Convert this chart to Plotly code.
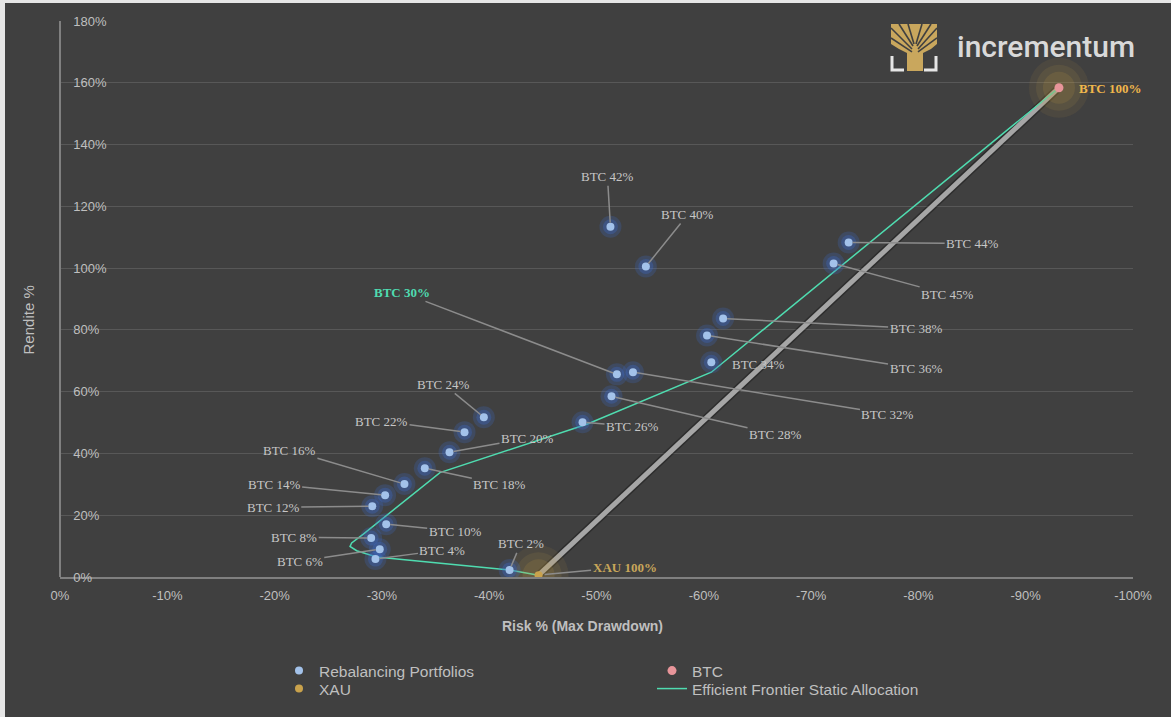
import plotly.graph_objects as go

# ---------------- data ----------------
labels = ["BTC 2%", "BTC 4%", "BTC 6%", "BTC 8%", "BTC 10%", "BTC 12%", "BTC 14%",
          "BTC 16%", "BTC 18%", "BTC 20%", "BTC 22%", "BTC 24%", "BTC 26%", "BTC 28%",
          "BTC 30%", "BTC 32%", "BTC 34%", "BTC 36%", "BTC 38%", "BTC 40%", "BTC 42%",
          "BTC 44%", "BTC 45%"]
risk = [-41.9, -29.4, -29.8, -29.0, -30.4, -29.1, -30.3, -32.1, -34.0, -36.3, -37.7,
        -39.5, -48.7, -51.4, -51.9, -53.4, -60.7, -60.3, -61.8, -54.6, -51.3, -73.5, -72.1]
ret = [2.3, 5.8, 9.0, 12.6, 17.1, 22.9, 26.5, 30.1, 35.2, 40.4, 46.9,
       51.7, 50.1, 58.5, 65.6, 66.3, 69.5, 78.2, 83.7, 100.5, 113.4, 108.3, 101.5]

xau_risk = [-44.6]
xau_ret = [0.6]
btc_risk = [-93.1]
btc_ret = [158.4]

ef_risk = [-44.6, -41.9, -29.5, -27.65, -27.03, -27.18, -28.27, -35.41, -49.1, -60.7, -93.1]
ef_ret = [0.6, 2.3, 6.5, 8.5, 9.9, 11.0, 13.9, 33.8, 49.45, 66.3, 158.4]

x_tickvals = [0, -10, -20, -30, -40, -50, -60, -70, -80, -90, -100]
x_ticktext = ["0%", "-10%", "-20%", "-30%", "-40%", "-50%", "-60%", "-70%", "-80%", "-90%", "-100%"]
y_tickvals = [0, 20, 40, 60, 80, 100, 120, 140, 160, 180]
y_ticktext = ["0%", "20%", "40%", "60%", "80%", "100%", "120%", "140%", "160%", "180%"]

# label offsets (pixels, text centre relative to point) -- styling only
label_offsets = [(11, -26), (67, -9), (-80, 12), (-77, -1), (69, 7), (-99, 1), (-111, -11),
                 (-115, -34), (75, 16), (78, -14), (-83, -11), (-40, -33), (50, 4), (164, 38),
                 (-215, -82), (255, 42), (47, 2), (209, 33), (193, 10), (42, -52), (-3, -50),
                 (124, 1), (114, 31)]
no_arrow = {"BTC 34%"}
highlight = {"BTC 30%"}

# ---------------- layout geometry ----------------
W, H = 1171, 717
ML, MR, MT, MB = 60, 38, 21, 139
PW, PH = W - ML - MR, H - MT - MB


def px_x(px):
    return (px - ML) / PW


def px_y(py):
    return (H - MB - py) / PH


BG = "#404040"
GRID = "#585858"
AXIS = "#808080"
TXT = "#bfbfbf"
LBL = "#c6c6c6"
BLUE = "#a3c2ea"
GOLD = "#c9a24c"
PINK = "#e8959a"
CYAN = "#4fdcb0"

fig = go.Figure()

# thick gray connecting line XAU -> BTC
fig.add_trace(go.Scatter(x=[xau_risk[0], btc_risk[0]], y=[xau_ret[0], btc_ret[0]], mode="lines",
                         line=dict(color="rgba(0,0,0,0.3)", width=8), showlegend=False, hoverinfo="skip"))
fig.add_trace(go.Scatter(x=[xau_risk[0], btc_risk[0]], y=[xau_ret[0], btc_ret[0]], mode="lines",
                         line=dict(color="#a6a6a6", width=5), showlegend=False, hoverinfo="skip"))

# efficient frontier
fig.add_trace(go.Scatter(x=ef_risk, y=ef_ret, mode="lines", name="Efficient Frontier Static Allocation",
                         line=dict(color=CYAN, width=1.5), hoverinfo="skip", legend="legend2", legendrank=2))

# glows
for s, a in [(60, 0.09), (46, 0.11), (32, 0.15)]:
    fig.add_trace(go.Scatter(x=xau_risk + btc_risk, y=xau_ret + btc_ret, mode="markers",
                             marker=dict(size=s, color="rgba(200,160,70,%s)" % a, line=dict(width=0)),
                             showlegend=False, hoverinfo="skip"))
for s, a in [(22, 0.22), (15, 0.30)]:
    fig.add_trace(go.Scatter(x=risk, y=ret, mode="markers",
                             marker=dict(size=s, color="rgba(60,110,210,%s)" % a, line=dict(width=0)),
                             showlegend=False, hoverinfo="skip"))

fig.add_trace(go.Scatter(x=risk, y=ret, mode="markers", name="Rebalancing Portfolios",
                         marker=dict(size=8, color=BLUE, line=dict(width=0)), hoverinfo="skip",
                         legend="legend", legendrank=1))
fig.add_trace(go.Scatter(x=btc_risk, y=btc_ret, mode="markers", name="BTC",
                         marker=dict(size=9, color=PINK, line=dict(width=0)), hoverinfo="skip",
                         legend="legend", legendrank=2))
fig.add_trace(go.Scatter(x=xau_risk, y=xau_ret, mode="markers", name="XAU",
                         marker=dict(size=8, color=GOLD, line=dict(width=0)), hoverinfo="skip",
                         legend="legend2", legendrank=1))

annotations = []
serif = "Liberation Serif"
for lab, xv, yv, (ax, ay) in zip(labels, risk, ret, label_offsets):
    if lab in highlight:
        font = dict(family=serif, size=13, color=CYAN, weight="bold")
    else:
        font = dict(family=serif, size=13, color=LBL)
    if lab in no_arrow:
        annotations.append(dict(x=xv, y=yv, text=lab, showarrow=False, xshift=ax, yshift=-ay, font=font))
    else:
        annotations.append(dict(x=xv, y=yv, text=lab, showarrow=True, ax=ax, ay=ay, arrowhead=0,
                                arrowwidth=1.5, arrowcolor="#8c8c8c", standoff=4, font=font))

annotations.append(dict(x=btc_risk[0], y=btc_ret[0], text="BTC 100%", showarrow=False, xanchor="left",
                        xshift=18, yshift=-1, font=dict(family=serif, size=13, color="#f0b74c", weight="bold")))
annotations.append(dict(x=xau_risk[0], y=xau_ret[0], text="XAU 100%", showarrow=True, ax=86, ay=-8,
                        arrowhead=0, arrowwidth=1.5, arrowcolor="#8c8c8c", standoff=6,
                        font=dict(family=serif, size=13, color="#c8a65a", weight="bold")))

# axis titles
annotations.append(dict(xref="paper", yref="paper", x=px_x(582), y=px_y(627), xanchor="center",
                        yanchor="middle", text="Risk % (Max Drawdown)", showarrow=False,
                        font=dict(family="Liberation Sans", size=14, color=TXT, weight="bold")))
annotations.append(dict(xref="paper", yref="paper", x=px_x(28), y=px_y(321), xanchor="center",
                        yanchor="middle", text="Rendite %", textangle=-90, showarrow=False,
                        font=dict(family="Liberation Sans", size=15, color=TXT)))
# logo text
annotations.append(dict(xref="paper", yref="paper", x=px_x(955), y=px_y(47), xanchor="left", yanchor="middle",
                        text="incrementum", showarrow=False,
                        font=dict(family="Roboto", size=30, color="#d9d9d9", weight=500)))

shapes = []
# outer frame
shapes.append(dict(type="rect", xref="paper", yref="paper", layer="below",
                   x0=px_x(5), x1=px_x(W + 5), y0=px_y(H + 5), y1=px_y(3),
                   fillcolor=BG, line=dict(width=0)))


def path(pts, close=True):
    s = "M" + " L".join("%.5f,%.5f" % (px_x(a), px_y(b)) for a, b in pts)
    return s + (" Z" if close else "")


LOGO_GOLD = "#c9a75d"
shapes.append(dict(type="path", xref="paper", yref="paper",
                   path=path([(891, 24), (937, 24), (937, 44), (931, 49), (923, 53), (923, 71),
                              (907, 71), (907, 53), (899, 49), (891, 44)]),
                   fillcolor=LOGO_GOLD, line=dict(width=0)))
for (a, b), (c, d) in [((912, 52), (891, 38)), ((912, 49), (891, 28)), ((913, 46), (899, 24)),
                       ((914, 44), (908, 24)),
                       ((918, 52), (937, 38)), ((918, 49), (937, 28)), ((917, 46), (931, 24)),
                       ((916, 44), (922, 24))]:
    shapes.append(dict(type="line", xref="paper", yref="paper", x0=px_x(a), y0=px_y(b),
                       x1=px_x(c), y1=px_y(d), line=dict(color=BG, width=1.6)))
shapes.append(dict(type="path", xref="paper", yref="paper", path=path([(892, 56), (892, 70), (904, 70)], False),
                   line=dict(color="#e6e6e6", width=3)))
shapes.append(dict(type="path", xref="paper", yref="paper", path=path([(936, 56), (936, 70), (924, 70)], False),
                   line=dict(color="#e6e6e6", width=3)))

legend_common = dict(orientation="h", x=px_x(279), xanchor="left", yanchor="middle",
                     entrywidth=328, entrywidthmode="pixels", bgcolor="rgba(0,0,0,0)",
                     font=dict(family="Liberation Sans", size=15.5, color=TXT), tracegroupgap=0,
                     traceorder="normal")

fig.update_layout(
    width=W, height=H,
    margin=dict(l=ML, r=MR, t=MT, b=MB),
    paper_bgcolor="#e6e6e6",
    plot_bgcolor="rgba(0,0,0,0)",
    font=dict(family="Liberation Sans", size=13, color=TXT),
    xaxis=dict(range=[0, -100], tickvals=x_tickvals, ticktext=x_ticktext, showgrid=False, zeroline=False,
               showline=True, linecolor=AXIS, linewidth=1.5, ticks="", ticklabelstandoff=6,
               tickfont=dict(family="Liberation Sans", size=13, color=TXT)),
    yaxis=dict(range=[0, 180], tickvals=y_tickvals, ticktext=y_ticktext, showgrid=True, gridcolor=GRID,
               gridwidth=1.2, zeroline=False, showline=True, linecolor=AXIS, linewidth=1.5, ticks="",
               side="right", anchor="free", position=0, ticklabelstandoff=10,
               tickfont=dict(family="Liberation Sans", size=13, color=TXT)),
    showlegend=True,
    legend=dict(legend_common, y=px_y(671)),
    legend2=dict(legend_common, y=px_y(689)),
    annotations=annotations,
    shapes=shapes,
    hovermode=False,
)

fig.write_html("out.html", config={"displayModeBar": False},
               post_script="document.body.style.margin='0';document.body.style.padding='0';"
                           "document.body.style.background='#e6e6e6';")
